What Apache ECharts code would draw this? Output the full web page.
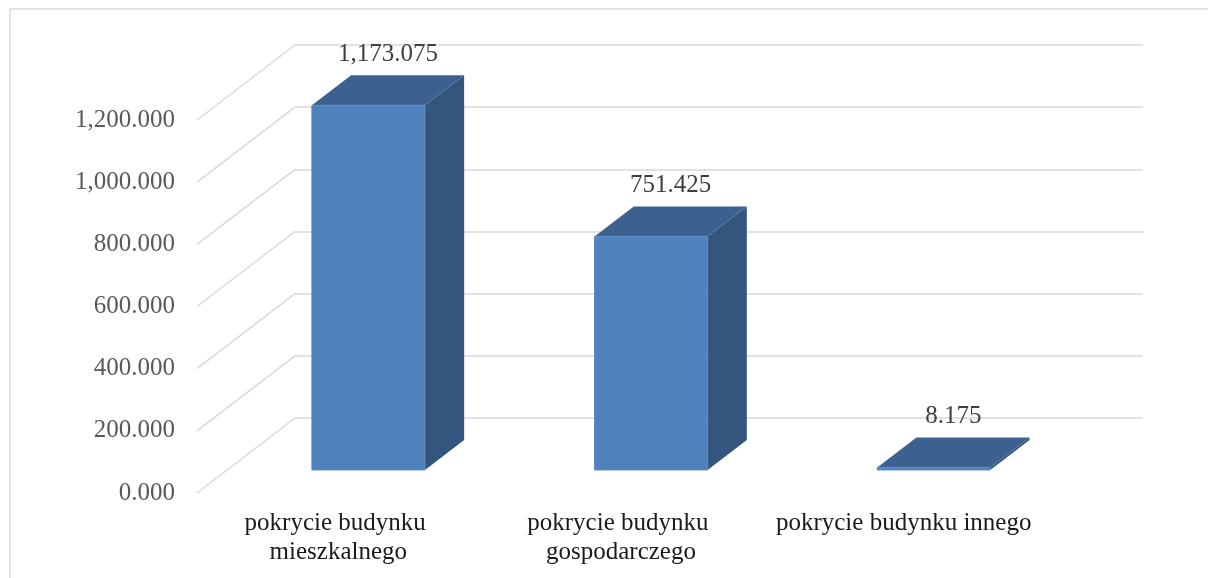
<!DOCTYPE html>
<html>
<head>
<meta charset="utf-8">
<script src="https://cdn.jsdelivr.net/npm/echarts@6/dist/echarts.min.js"></script>
<style>
  html, body { margin: 0; padding: 0; background: #fff; }
  #chart { width: 1208px; height: 578px; }
</style>
</head>
<body>
<div id="chart"></div>
<script>
// dane wykresu
const categories = ["pokrycie budynku mieszkalnego", "pokrycie budynku gospodarczego", "pokrycie budynku innego"];
const values = [1173.075, 751.425, 8.175];
const yTicks = [0, 200, 400, 600, 800, 1000, 1200];

// przesuniecie glebi (tylna sciana -> przod)
const DX = -98;
const DY = 75;
const FRONT = 0.693; // przednia sciana slupka
const BACK = 0.293; // tylna sciana slupka

const fmt = function (v) {
  return v.toLocaleString("en-US", { minimumFractionDigits: 3, maximumFractionDigits: 3 });
};

const chart = echarts.init(document.getElementById("chart"));

const option = {
  animation: false,
  textStyle: { fontFamily: "Liberation Serif" },
  graphic: [
    {
      type: "rect",
      shape: { x: 10, y: 9, width: 1400, height: 800 },
      style: { fill: "none", stroke: "#d9d9d9", lineWidth: 1.5 },
      silent: true,
    },
  ],
  grid: [
    // tylna sciana
    { left: 295, top: 45, width: 848, height: 373 },
    // przednia plaszczyzna (etykiety)
    { left: 197, top: 120, width: 848, height: 373 },
  ],
  xAxis: [
    {
      gridIndex: 0,
      type: "category",
      data: categories,
      axisLine: { show: false },
      axisTick: { show: false },
      axisLabel: { show: false },
    },
    {
      gridIndex: 1,
      type: "category",
      data: categories,
      axisLine: { show: false },
      axisTick: { show: false },
      axisLabel: {
        margin: 16,
        color: "#1a1a1a",
        fontSize: 25,
        lineHeight: 29,
        width: 270,
        overflow: "break",
        interval: 0,
      },
    },
  ],
  yAxis: [
    {
      gridIndex: 0,
      type: "value",
      min: 0,
      max: 1200,
      interval: 200,
      axisLine: { show: false },
      axisTick: { show: false },
      axisLabel: { show: false },
      splitLine: { lineStyle: { color: "#d9d9d9", width: 1.5 } },
    },
    {
      gridIndex: 1,
      type: "value",
      min: 0,
      max: 1200,
      interval: 200,
      axisLine: { show: false },
      axisTick: { show: false },
      splitLine: { show: false },
      axisLabel: {
        margin: 22,
        color: "#595959",
        fontSize: 25,
        formatter: fmt,
      },
    },
  ],
  series: [
    {
      // ukosne linie siatki
      type: "custom",
      xAxisIndex: 0,
      yAxisIndex: 0,
      silent: true,
      z: 1,
      data: yTicks.map(function (t) { return [0, t]; }),
      encode: { x: 0, y: 1 },
      renderItem: function (params, api) {
        const cs = params.coordSys;
        const y = api.coord([0, api.value(1)])[1];
        return {
          type: "line",
          shape: { x1: cs.x, y1: y, x2: cs.x + DX, y2: y + DY },
          style: { stroke: "#d9d9d9", lineWidth: 1.5 },
        };
      },
    },
    {
      // slupki 3D
      type: "custom",
      xAxisIndex: 0,
      yAxisIndex: 0,
      z: 2,
      data: values.map(function (v, i) { return [i, v]; }),
      encode: { x: 0, y: 1 },
      renderItem: function (params, api) {
        const base = api.coord([api.value(0), 0]);
        const top = api.coord([api.value(0), api.value(1)]);
        const w = api.size([1, 0])[0] * 0.4;
        const cx = base[0];
        const fx = DX * FRONT, fy = DY * FRONT;
        const bx = DX * BACK, by = DY * BACK;
        const l = cx - w / 2, r = cx + w / 2;
        const y0 = base[1], y1 = top[1];
        return {
          type: "group",
          children: [
            {
              type: "polygon",
              shape: { points: [[r + fx, y1 + fy], [r + bx, y1 + by], [r + bx, y0 + by], [r + fx, y0 + fy]] },
              style: { fill: "#33557e" },
            },
            {
              type: "polygon",
              shape: { points: [[l + fx, y1 + fy], [l + bx, y1 + by], [r + bx, y1 + by], [r + fx, y1 + fy]] },
              style: { fill: "#3c6190" },
            },
            {
              type: "rect",
              shape: { x: l + fx, y: y1 + fy, width: w, height: y0 - y1 },
              style: { fill: "#4f81bd", stroke: "#5d8dc6", lineWidth: 1 },
            },
            {
              type: "text",
              style: {
                text: fmt(api.value(1)),
                x: cx + (fx + bx) / 2,
                y: y1 + (fy + by) / 2 - 36,
                align: "center",
                verticalAlign: "middle",
                fill: "#404040",
                font: "25px 'Liberation Serif'",
              },
            },
          ],
        };
      },
    },
  ],
};

chart.setOption(option);
</script>
</body>
</html>
